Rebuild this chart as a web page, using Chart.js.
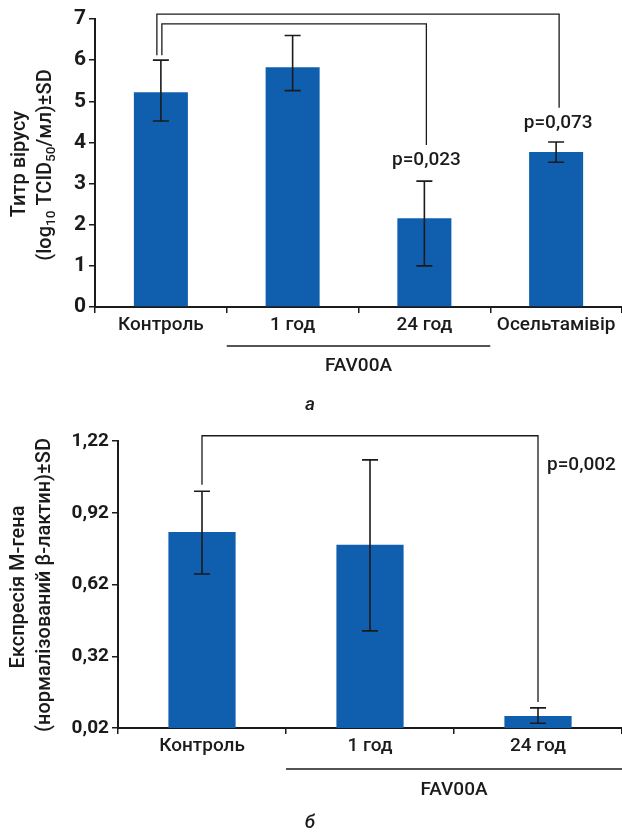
<!DOCTYPE html>
<html>
<head>
<meta charset="utf-8">
<script src="https://cdn.jsdelivr.net/npm/chart.js@4"></script>
<style>
  body { margin: 0; background: #fff; width: 622px; height: 835px; overflow: hidden; position: relative; }
  canvas { position: absolute; left: 0; }
  #chartA { top: 0; }
  #chartB { top: 420px; }
</style>
</head>
<body>
<canvas id="chartA" width="622" height="420"></canvas>
<canvas id="chartB" width="622" height="415"></canvas>
<script>
// panel a: virus titre
const catsA = ['Контроль', '1 год', '24 год', 'Осельтамівір'];
const valsA = [5.22, 5.83, 2.16, 3.77];
const errHiA = [6.0, 6.6, 3.06, 4.01];
const errLoA = [4.52, 5.26, 1.0, 3.52];
const ticksA = [0, 1, 2, 3, 4, 5, 6, 7];
const pA = ['p=0,023', 'p=0,073'];

// panel b: M-gene expression
const catsB = ['Контроль', '1 год', '24 год'];
const valsB = [0.84, 0.786, 0.07];
const errHiB = [1.01, 1.141, 0.104];
const errLoB = [0.664, 0.426, 0.04];
const ticksB = [0.02, 0.32, 0.62, 0.92, 1.22];
const pB = ['p=0,002'];

const ink = '#1b1b1b';
const barBlue = '#0f5fae';
const fnt = (size, weight = '500', style = 'normal') => `${style} ${weight} ${size}px Roboto`;

function errorBars(lo, hi) {
  return {
    id: 'errbars',
    afterDatasetsDraw(chart) {
      const { ctx, scales: { x, y } } = chart;
      ctx.save();
      ctx.strokeStyle = ink;
      ctx.lineWidth = 1.6;
      lo.forEach((l, i) => {
        const cx = x.getPixelForValue(i);
        const yt = y.getPixelForValue(hi[i]);
        const yb = y.getPixelForValue(l);
        ctx.beginPath();
        ctx.moveTo(cx, yt); ctx.lineTo(cx, yb);
        ctx.moveTo(cx - 8, yt); ctx.lineTo(cx + 8, yt);
        ctx.moveTo(cx - 8, yb); ctx.lineTo(cx + 8, yb);
        ctx.stroke();
      });
      ctx.restore();
    }
  };
}

// rotated text made of parts; sub parts are smaller and shifted down
function drawRotated(ctx, parts, cx, cy, size) {
  ctx.save();
  ctx.translate(cx, cy);
  ctx.rotate(-Math.PI / 2);
  ctx.fillStyle = ink;
  ctx.textBaseline = 'middle';
  ctx.textAlign = 'left';
  let total = 0;
  parts.forEach(p => { ctx.font = fnt(p.sub ? size * 0.68 : size); total += ctx.measureText(p.t).width; });
  let px = -total / 2;
  parts.forEach(p => {
    ctx.font = fnt(p.sub ? size * 0.68 : size);
    ctx.fillText(p.t, px, p.sub ? size * 0.3 : 0);
    px += ctx.measureText(p.t).width;
  });
  ctx.restore();
}

function bracket(ctx, x1, yl, yTop, x2, yr) {
  ctx.beginPath();
  ctx.moveTo(x1, yl); ctx.lineTo(x1, yTop); ctx.lineTo(x2, yTop); ctx.lineTo(x2, yr);
  ctx.stroke();
}

const annotA = {
  id: 'annotA',
  afterDraw(chart) {
    const { ctx, scales: { x, y } } = chart;
    ctx.save();
    ctx.strokeStyle = ink;
    ctx.lineWidth = 1.3;
    const x0 = x.getPixelForValue(0);
    bracket(ctx, x0 - 4, y.getPixelForValue(6.12), y.getPixelForValue(7.12), x.getPixelForValue(3) + 3, y.getPixelForValue(4.84));
    bracket(ctx, x0 + 1, y.getPixelForValue(6.12), y.getPixelForValue(6.88), x.getPixelForValue(2) + 2, y.getPixelForValue(3.94));
    ctx.fillStyle = ink;
    ctx.font = fnt(19);
    ctx.textAlign = 'center';
    ctx.textBaseline = 'middle';
    ctx.fillText(pA[0], x.getPixelForValue(2) + 2, y.getPixelForValue(3.57));
    ctx.fillText(pA[1], x.getPixelForValue(3) + 2, y.getPixelForValue(4.47));
    // group line under 1 год / 24 год
    const step = x.getPixelForValue(1) - x.getPixelForValue(0);
    const gl = x.getPixelForValue(1) - step / 2, gr = x.getPixelForValue(2) + step / 2;
    ctx.lineWidth = 1.4;
    ctx.beginPath(); ctx.moveTo(gl, 346); ctx.lineTo(gr, 346); ctx.stroke();
    ctx.fillText('FAV00A', (gl + gr) / 2, 366);
    ctx.font = fnt(19, '500', 'italic');
    ctx.fillText('а', 310, 405);
    drawRotated(ctx, [{ t: 'Титр вірусу' }], 20, 164, 20);
    drawRotated(ctx, [{ t: '(log' }, { t: '10', sub: true }, { t: ' TCID' }, { t: '50', sub: true }, { t: '/мл)±SD' }], 46, 165, 20);
    ctx.restore();
  }
};

const annotB = {
  id: 'annotB',
  afterDraw(chart) {
    const { ctx, scales: { x, y } } = chart;
    ctx.save();
    ctx.strokeStyle = ink;
    ctx.lineWidth = 1.3;
    bracket(ctx, x.getPixelForValue(0), y.getPixelForValue(1.037), y.getPixelForValue(1.242), x.getPixelForValue(2), y.getPixelForValue(0.129));
    ctx.fillStyle = ink;
    ctx.font = fnt(19);
    ctx.textAlign = 'left';
    ctx.textBaseline = 'middle';
    ctx.fillText(pB[0], x.getPixelForValue(2) + 9, y.getPixelForValue(1.12));
    ctx.textAlign = 'center';
    const step = x.getPixelForValue(1) - x.getPixelForValue(0);
    const gl = x.getPixelForValue(1) - step / 2, gr = x.getPixelForValue(2) + step / 2;
    ctx.lineWidth = 1.4;
    ctx.beginPath(); ctx.moveTo(gl, 349); ctx.lineTo(gr, 349); ctx.stroke();
    ctx.fillText('FAV00A', (gl + gr) / 2, 370);
    ctx.font = fnt(19, '500', 'italic');
    ctx.fillText('б', 310, 403);
    drawRotated(ctx, [{ t: 'Експресія М-гена' }], 19, 167, 20);
    drawRotated(ctx, [{ t: '(нормалізований β-лактин)±SD' }], 45, 165, 20);
    ctx.restore();
  }
};

function makeChart(id, cats, vals, yTicks, yMin, yMax, fmt, axW, xH, padTop, barPct, tickSize, plugins) {
  return new Chart(document.getElementById(id), {
    type: 'bar',
    data: {
      labels: cats,
      datasets: [{ data: vals, backgroundColor: barBlue, borderWidth: 0, categoryPercentage: 1, barPercentage: barPct }]
    },
    options: {
      responsive: false,
      animation: false,
      layout: { padding: { top: padTop, right: 0, left: 0, bottom: 0 } },
      plugins: { legend: { display: false }, tooltip: { enabled: false } },
      scales: {
        x: {
          afterFit: s => { s.height = xH; },
          ticks: { color: ink, font: { family: 'Roboto', size: 19, weight: '500' }, padding: 1, maxRotation: 0 },
          grid: { offset: true, drawOnChartArea: false, color: ink, tickLength: 6, lineWidth: 1.5 },
          border: { color: ink, width: 2 }
        },
        y: {
          min: yMin, max: yMax,
          afterBuildTicks: s => { s.ticks = yTicks.map(v => ({ value: v })); },
          afterFit: s => { s.width = axW; },
          ticks: { color: ink, font: { family: 'Roboto', size: tickSize, weight: 'bold' }, padding: 3, callback: fmt },
          grid: { drawOnChartArea: false, color: ink, tickLength: 6, lineWidth: 1.5 },
          border: { color: ink, width: 2 }
        }
      }
    },
    plugins: plugins
  });
}

makeChart('chartA', catsA, valsA, ticksA, 0, 7, v => String(v), 95, 113, 19, 0.41, 21,
  [errorBars(errLoA, errHiA), annotA]);
makeChart('chartB', catsB, valsB, ticksB, 0.02, 1.22, v => v.toFixed(2).replace('.', ','), 118, 107, 21, 0.40, 19,
  [errorBars(errLoB, errHiB), annotB]);
</script>
</body>
</html>
